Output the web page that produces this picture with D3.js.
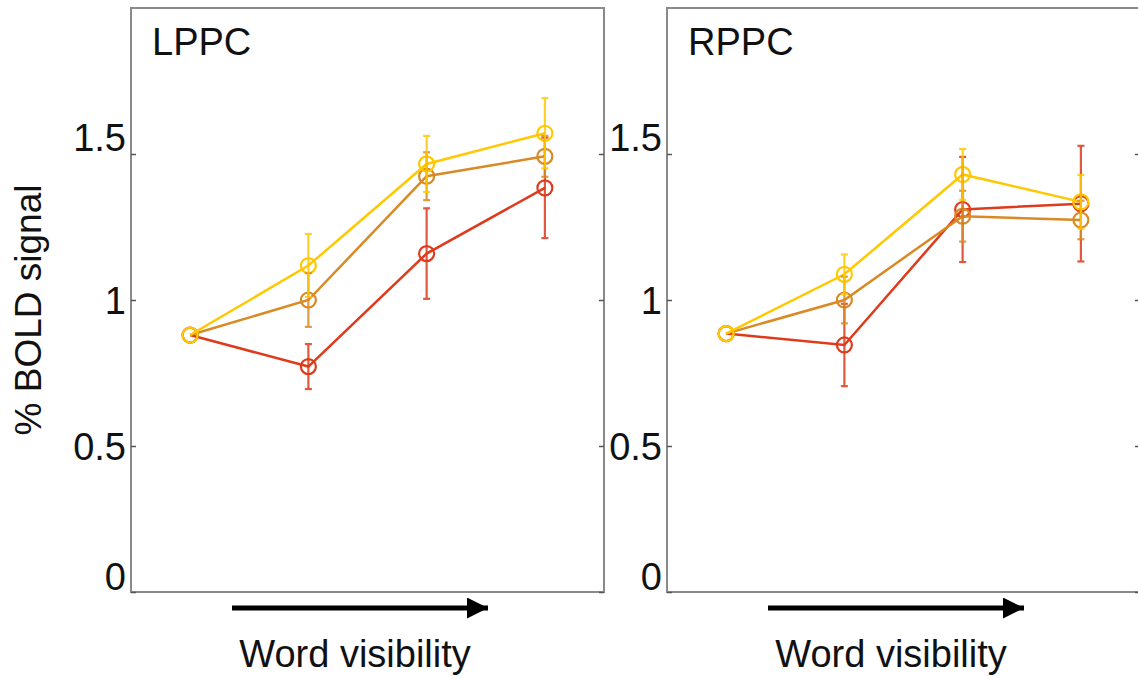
<!DOCTYPE html>
<html>
<head>
<meta charset="utf-8">
<script src="https://cdn.jsdelivr.net/npm/d3@7"></script>
<style>
  body { margin: 0; background: #fff; }
  text { font-family: "Liberation Sans", Arial, sans-serif; fill: #111; }
</style>
</head>
<body>
<div id="chart"></div>
<script>
// Data
const conditions = [1, 2, 3, 4];
const panels = ["LPPC", "RPPC"];
const seriesNames = ["red", "orange", "yellow"];
const seriesColors = ["#de3b1c", "#d98a24", "#ffc800"];

const lppcRed = [0.88, 0.772, 1.159, 1.384];
const lppcRedErr = [0, 0.077, 0.155, 0.172];
const lppcOrange = [0.88, 1.0, 1.424, 1.492];
const lppcOrangeErr = [0, 0.092, 0.082, 0.07];
const lppcYellow = [0.88, 1.118, 1.466, 1.571];
const lppcYellowErr = [0, 0.108, 0.096, 0.12];

const rppcRed = [0.885, 0.846, 1.31, 1.33];
const rppcRedErr = [0, 0.141, 0.18, 0.198];
const rppcOrange = [0.885, 1.0, 1.287, 1.274];
const rppcOrangeErr = [0, 0.08, 0.087, 0.066];
const rppcYellow = [0.885, 1.088, 1.43, 1.336];
const rppcYellowErr = [0, 0.068, 0.087, 0.092];

const yTicks = [0, 0.5, 1, 1.5];
const yTickLabels = ["0", "0.5", "1", "1.5"];
const yLabel = "% BOLD signal";
const xLabel = "Word visibility";

const panelData = {
  LPPC: [
    { values: lppcRed, err: lppcRedErr },
    { values: lppcOrange, err: lppcOrangeErr },
    { values: lppcYellow, err: lppcYellowErr }
  ],
  RPPC: [
    { values: rppcRed, err: rppcRedErr },
    { values: rppcOrange, err: rppcOrangeErr },
    { values: rppcYellow, err: rppcYellowErr }
  ]
};

// Chart setup
const width = 1138;
const height = 679;
const svg = d3.select("#chart")
  .append("svg")
  .attr("width", width)
  .attr("height", height);

svg.append("defs").append("marker")
  .attr("id", "arrowhead")
  .attr("viewBox", "0 0 10 10")
  .attr("refX", 10)
  .attr("refY", 5)
  .attr("markerUnits", "userSpaceOnUse")
  .attr("markerWidth", 30)
  .attr("markerHeight", 21)
  .attr("orient", "auto")
  .append("path")
  .attr("d", "M0,0 L10,5 L0,10 Z")
  .attr("fill", "#000");

const panelLeft = [131, 667];
const panelWidth = 473;
const plotTop = 8, plotBottom = 592;

const y = d3.scaleLinear().domain([0, 2]).range([plotBottom, plotTop]);

panels.forEach((name, p) => {
  const x0 = panelLeft[p];
  const x = d3.scaleLinear().domain([0.5, 4.5]).range([x0, x0 + panelWidth]);
  const g = svg.append("g");

  // Frame
  g.append("rect")
    .attr("x", x0)
    .attr("y", plotTop)
    .attr("width", panelWidth)
    .attr("height", plotBottom - plotTop)
    .attr("fill", "none")
    .attr("stroke", "#8a8a8a")
    .attr("stroke-width", 2);

  // Inward ticks on both sides
  g.append("g")
    .attr("transform", `translate(${x0},0)`)
    .call(d3.axisLeft(y).tickValues(yTicks).tickSize(-5).tickFormat(""))
    .call(a => a.select(".domain").remove())
    .call(a => a.selectAll("line").attr("stroke", "#555").attr("stroke-width", 1.5));

  g.append("g")
    .attr("transform", `translate(${x0 + panelWidth},0)`)
    .call(d3.axisRight(y).tickValues(yTicks).tickSize(-5).tickFormat(""))
    .call(a => a.select(".domain").remove())
    .call(a => a.selectAll("line").attr("stroke", "#555").attr("stroke-width", 1.5));

  // Tick labels
  g.selectAll(".ylab")
    .data(yTicks)
    .join("text")
    .attr("class", "ylab")
    .attr("x", x0 - 5)
    .attr("y", d => y(d))
    .attr("dy", d => d === 0 ? -2 : (d === d3.max(yTicks) ? -3 : 14))
    .attr("text-anchor", "end")
    .attr("font-size", 38)
    .text((d, i) => yTickLabels[i]);

  // Panel title
  g.append("text")
    .attr("x", x0 + 21)
    .attr("y", 55)
    .attr("font-size", 38)
    .text(name);

  // Series lines and markers
  const line = d3.line()
    .x((d, i) => x(conditions[i]))
    .y(d => y(d));

  panelData[name].forEach((s, k) => {
    const color = seriesColors[k];
    g.append("path")
      .attr("d", line(s.values))
      .attr("fill", "none")
      .attr("stroke", color)
      .attr("stroke-width", 2.5);

    g.selectAll(null)
      .data(s.values)
      .join("circle")
      .attr("cx", (d, i) => x(conditions[i]))
      .attr("cy", d => y(d))
      .attr("r", 7.5)
      .attr("fill", "none")
      .attr("stroke", color)
      .attr("stroke-width", 2.2);
  });

  // Error bars
  panelData[name].forEach((s, k) => {
    const color = seriesColors[k];
    const eb = g.append("g")
      .attr("stroke", color)
      .attr("stroke-width", 2.2)
      .attr("opacity", 0.85);
    s.values.forEach((v, i) => {
      if (!s.err[i]) return;
      const cx = x(conditions[i]);
      const yHi = y(v + s.err[i]);
      const yLo = y(v - s.err[i]);
      eb.append("line").attr("x1", cx).attr("x2", cx).attr("y1", yHi).attr("y2", yLo);
      eb.append("line").attr("x1", cx - 3.5).attr("x2", cx + 3.5).attr("y1", yHi).attr("y2", yHi);
      eb.append("line").attr("x1", cx - 3.5).attr("x2", cx + 3.5).attr("y1", yLo).attr("y2", yLo);
    });
  });

  // Arrow and x label
  g.append("line")
    .attr("x1", x0 + 101)
    .attr("x2", x0 + 357)
    .attr("y1", 608)
    .attr("y2", 608)
    .attr("stroke", "#000")
    .attr("stroke-width", 5)
    .attr("marker-end", "url(#arrowhead)");

  g.append("text")
    .attr("x", x0 + 224)
    .attr("y", 667)
    .attr("text-anchor", "middle")
    .attr("font-size", 38)
    .text(xLabel);
});

// Y axis label
svg.append("text")
  .attr("transform", "translate(41,310) rotate(-90)")
  .attr("text-anchor", "middle")
  .attr("font-size", 37)
  .text(yLabel);
</script>
</body>
</html>
